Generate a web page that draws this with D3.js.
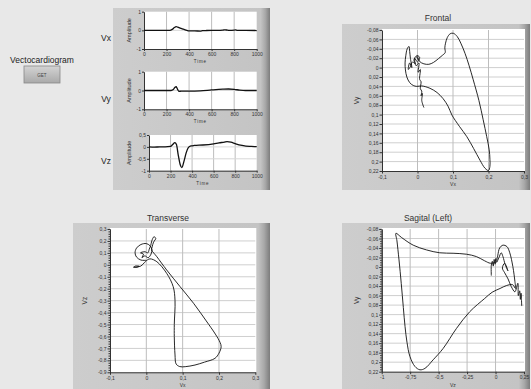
<!DOCTYPE html>
<html>
<head>
<meta charset="utf-8">
<script src="https://cdn.jsdelivr.net/npm/d3@7"></script>
<style>
  body { margin: 0; background: #e8e8e8; }
  svg text { font-family: "Liberation Sans", Arial, sans-serif; }
  .tick text { font-size: 5px; fill: #333; }
  .tick line, .domain { stroke: #333; }
</style>
</head>
<body>
<div class="chart"></div>
<script>
// ---- data ----
var timeTicks = [0, 200, 400, 600, 800, 1000];
var ampTicks = [1, 0, -1];
var vzAmpTicks = [0.5, 0, -0.5, -1];

var vxTime = [0, 50, 100, 150, 200, 230, 250, 270, 285, 300, 320, 350, 380, 400, 450, 500, 520, 550, 600, 650, 700, 720, 740, 760, 800, 810, 830, 900, 1000];
var vxAmp  = [0, 0, 0, 0, 0, 0, 0.05, 0.15, 0.2, 0.17, 0.12, 0.06, 0, -0.03, -0.03, -0.04, -0.02, -0.01, 0, 0, 0.01, 0.03, 0.01, 0, 0.01, 0.03, 0, 0, -0.01];

var vyTime = [0, 100, 200, 240, 260, 275, 285, 295, 310, 330, 400, 500, 600, 700, 750, 800, 850, 900, 1000];
var vyAmp  = [0, 0, 0, 0, 0.05, 0.17, 0.2, 0.1, -0.05, -0.03, -0.03, -0.02, 0.03, 0.07, 0.08, 0.06, 0.02, 0, 0];

var vzTime = [0, 50, 100, 150, 200, 220, 240, 255, 270, 290, 305, 325, 345, 365, 390, 420, 500, 600, 650, 700, 725, 760, 800, 850, 900, 950, 1000];
var vzAmp  = [0, -0.01, 0, 0, 0.02, 0.1, 0.18, 0.1, -0.3, -0.75, -0.87, -0.6, -0.25, -0.03, 0.04, 0.06, 0.08, 0.13, 0.17, 0.2, 0.22, 0.2, 0.14, 0.07, 0.03, 0.02, 0.01];

var frontalTicksX = [-0.1, 0, 0.1, 0.2, 0.3];
var frontalTicksY = [-0.08, -0.06, -0.04, -0.02, 0, 0.02, 0.04, 0.06, 0.08, 0.1, 0.12, 0.14, 0.16, 0.18, 0.2, 0.22];
var transverseTicksY = [0.3, 0.2, 0.1, 0, -0.1, -0.2, -0.3, -0.4, -0.5, -0.6, -0.7, -0.8, -0.9];
var sagitalTicksX = [-1, -0.75, -0.5, -0.25, 0, 0.25];

// Frontal loop: [Vx, Vy]
var frontalLoop = [
  [0.002, -0.016], [-0.004, -0.024], [-0.01, -0.016], [-0.006, -0.008], [-0.014, -0.012], [-0.02, -0.002],
  [-0.026, 0.004], [-0.022, -0.01], [-0.016, 0], [-0.02, -0.02], [-0.022, -0.034], [-0.024, -0.045],
  [-0.029, -0.04], [-0.033, -0.025], [-0.035, -0.01], [-0.034, 0.005], [-0.03, 0.02], [-0.022, 0.032],
  [-0.012, 0.038], [-0.002, 0.04], [0.012, 0.039], [0.035, 0.044], [0.055, 0.053], [0.072, 0.066],
  [0.086, 0.082], [0.097, 0.101], [0.118, 0.125], [0.139, 0.147], [0.158, 0.172], [0.176, 0.197],
  [0.19, 0.214], [0.2, 0.219], [0.204, 0.21], [0.204, 0.195], [0.202, 0.175], [0.195, 0.147],
  [0.185, 0.111], [0.173, 0.07], [0.157, 0.026], [0.145, -0.005], [0.134, -0.03], [0.122, -0.052],
  [0.112, -0.066], [0.101, -0.073], [0.092, -0.072], [0.084, -0.064], [0.079, -0.052], [0.077, -0.042],
  [0.078, -0.032], [0.07, -0.026], [0.059, -0.019], [0.045, -0.011], [0.032, -0.007], [0.018, -0.008],
  [0.006, -0.013], [0.002, -0.02], [-0.002, -0.026], [0.006, -0.022], [0, -0.012], [-0.008, -0.02],
  [-0.004, -0.004], [0.004, -0.01], [0.002, 0.01], [0.008, 0.004], [0.006, 0.025], [0.01, 0.03],
  [0.008, 0.045], [0.012, 0.05], [0.01, 0.06], [0.014, 0.055], [0.012, 0.07], [0.018, 0.085]
];

// Transverse loop: [Vx, Vz]
var transverseLoop = [
  [-0.035, -0.02], [-0.03, -0.01], [-0.02, -0.012], [-0.028, -0.022], [-0.035, -0.02], [-0.015, -0.01],
  [-0.005, 0.02], [0, 0.035], [-0.015, 0.04], [-0.027, 0.065], [-0.031, 0.1], [-0.027, 0.14],
  [-0.015, 0.17], [0, 0.178], [0.01, 0.16], [0.015, 0.13], [0.013, 0.09], [0.005, 0.06],
  [-0.004, 0.075], [-0.012, 0.06], [-0.008, 0.09], [-0.016, 0.1], [-0.004, 0.11], [0.004, 0.1],
  [0.008, 0.13], [0.012, 0.16], [0.015, 0.2], [0.021, 0.235], [0.026, 0.222], [0.02, 0.19],
  [0.016, 0.15], [0.015, 0.124], [0.029, 0.068], [0.056, -0.043], [0.093, -0.183], [0.13, -0.322],
  [0.165, -0.47], [0.19, -0.58], [0.203, -0.65], [0.206, -0.686], [0.2, -0.74], [0.189, -0.783],
  [0.16, -0.815], [0.134, -0.839], [0.107, -0.853], [0.092, -0.852], [0.082, -0.83], [0.079, -0.755],
  [0.077, -0.6], [0.077, -0.5], [0.079, -0.3], [0.074, -0.183], [0.056, -0.071], [0.029, 0.026],
  [0.01, 0.05], [0, 0.035]
];

// Sagittal loop: [Vz, Vy]
var sagitalLoop = [
  [-0.037, 0.018], [-0.037, -0.004], [-0.028, -0.012], [-0.02, -0.002], [-0.012, -0.016], [-0.004, -0.006],
  [0.004, -0.018], [-0.008, -0.01], [-0.045, -0.008], [-0.095, -0.013], [-0.168, -0.022], [-0.256, -0.027],
  [-0.373, -0.029], [-0.49, -0.03], [-0.606, -0.036], [-0.723, -0.046], [-0.825, -0.062], [-0.875, -0.071],
  [-0.866, -0.055], [-0.848, -0.015], [-0.828, 0.035], [-0.81, 0.085], [-0.795, 0.125], [-0.778, 0.158],
  [-0.752, 0.188], [-0.708, 0.209], [-0.664, 0.216], [-0.62, 0.213], [-0.548, 0.195], [-0.46, 0.171],
  [-0.343, 0.129], [-0.227, 0.094], [-0.095, 0.066], [-0.03, 0.053], [0.04, 0.045], [0.095, 0.039],
  [0.15, 0.037], [0.175, 0.045], [0.17, 0.03], [0.152, -0.001], [0.125, -0.03], [0.1, -0.043],
  [0.065, -0.046], [0.036, -0.04], [0.02, -0.025], [0.01, -0.01], [0.03, -0.02], [0.05, -0.03],
  [0.065, -0.022], [0.085, -0.005], [0.109, 0.008], [0.08, -0.008], [0.06, 0.002], [0.08, 0.012],
  [0.11, 0.025], [0.138, 0.041], [0.17, 0.052], [0.196, 0.034], [0.2, 0.06], [0.212, 0.05],
  [0.218, 0.068], [0.224, 0.055], [0.228, 0.07], [0.23, 0.082]
];

// ---- drawing ----
var svgWidth = 531;
var svgHeight = 389;

var svg = d3.select('.chart')
  .append('svg')
  .attr('width', svgWidth)
  .attr('height', svgHeight);

var defs = svg.append('defs');
var grad = defs.append('linearGradient').attr('id', 'frameGrad').attr('x1', 0).attr('x2', 1);
grad.append('stop').attr('offset', '0%').attr('stop-color', '#cdcdcd');
grad.append('stop').attr('offset', '94%').attr('stop-color', '#c4c4c4');
grad.append('stop').attr('offset', '97%').attr('stop-color', '#a8a8a8');
grad.append('stop').attr('offset', '100%').attr('stop-color', '#7c7c7c');

var btnGrad = defs.append('linearGradient').attr('id', 'btnGrad').attr('x1', 0).attr('x2', 0).attr('y1', 0).attr('y2', 1);
btnGrad.append('stop').attr('offset', '0%').attr('stop-color', '#d4d4d4');
btnGrad.append('stop').attr('offset', '100%').attr('stop-color', '#a9a9a9');

var fmt = function(v) {
  return String(Math.round(v * 1000) / 1000).replace('.', ',');
};

svg.append('rect').attr('width', svgWidth).attr('height', svgHeight).attr('fill', '#e8e8e8');

// left control
svg.append('text').attr('x', 42).attr('y', 63).attr('text-anchor', 'middle')
  .attr('font-size', 8.5).attr('fill', '#222').text('Vectocardiogram');
svg.append('rect').attr('x', 24).attr('y', 66).attr('width', 36).attr('height', 17)
  .attr('fill', 'url(#btnGrad)').attr('stroke', '#888').attr('stroke-width', 0.8);
svg.append('text').attr('x', 42).attr('y', 76.5).attr('text-anchor', 'middle')
  .attr('font-size', 4.5).attr('fill', '#444').text('GET');

// frame of the three time charts
svg.append('rect').attr('x', 113).attr('y', 8).attr('width', 157).attr('height', 182)
  .attr('fill', 'url(#frameGrad)');

function drawTimeChart(c) {
  var g = svg.append('g');
  var x = d3.scaleLinear().domain([0, 1000]).range([c.x0, c.x1]);
  var y = d3.scaleLinear().domain([c.ticks[0], c.ticks[c.ticks.length - 1]]).range([c.y0, c.y1]);

  g.append('rect').attr('x', c.x0).attr('y', c.y0).attr('width', c.x1 - c.x0).attr('height', c.y1 - c.y0)
    .attr('fill', '#fff');

  g.selectAll('.vg').data(timeTicks.slice(1, -1)).enter().append('line')
    .attr('x1', d => x(d)).attr('x2', d => x(d)).attr('y1', c.y0).attr('y2', c.y1)
    .attr('stroke', '#bdbdbd').attr('stroke-width', 1);
  g.selectAll('.hg').data(c.ticks.slice(1, -1)).enter().append('line')
    .attr('x1', c.x0).attr('x2', c.x1).attr('y1', d => y(d)).attr('y2', d => y(d))
    .attr('stroke', '#d8d8d8').attr('stroke-width', 1);

  g.append('g').attr('transform', `translate(0, ${c.y1})`)
    .call(d3.axisBottom(x).tickValues(timeTicks).tickFormat(d => d).tickSize(2).tickSizeOuter(0).tickPadding(1.5));
  g.append('g').attr('transform', `translate(${c.x0}, 0)`)
    .call(d3.axisLeft(y).tickValues(c.ticks).tickFormat(fmt).tickSize(2).tickSizeOuter(0).tickPadding(1));

  var pts = c.t.map((t, i) => [t, c.v[i]]);
  g.append('path').datum(pts)
    .attr('d', d3.line().x(d => x(d[0])).y(d => y(d[1])).curve(d3.curveMonotoneX))
    .attr('fill', 'none').attr('stroke', '#111').attr('stroke-width', 1.3);

  g.append('text').attr('transform', `translate(131, ${(c.y0 + c.y1) / 2}) rotate(-90)`)
    .attr('text-anchor', 'middle').attr('font-size', 5.5).attr('fill', '#333').text('Amplitude');
  g.append('text').attr('x', (c.x0 + c.x1) / 2).attr('y', c.y1 + 14).attr('text-anchor', 'middle')
    .attr('font-size', 4.5).attr('letter-spacing', 0.8).attr('fill', '#333').text('Time');
  svg.append('text').attr('x', c.lx).attr('y', c.ly).attr('text-anchor', 'middle')
    .attr('font-size', 8.5).attr('fill', '#222').text(c.label);
}

drawTimeChart({ label: 'Vx', lx: 106, ly: 41, t: vxTime, v: vxAmp, ticks: ampTicks, x0: 144, x1: 256.7, y0: 11.7, y1: 49 });
drawTimeChart({ label: 'Vy', lx: 106, ly: 102, t: vyTime, v: vyAmp, ticks: ampTicks, x0: 144, x1: 256.7, y0: 71.7, y1: 109.3 });
drawTimeChart({ label: 'Vz', lx: 106, ly: 164, t: vzTime, v: vzAmp, ticks: vzAmpTicks, x0: 149, x1: 256.7, y0: 135, y1: 170.7 });

function drawLoop(c) {
  var g = svg.append('g');
  g.append('rect').attr('x', c.px).attr('y', c.py).attr('width', c.pw).attr('height', c.ph)
    .attr('fill', 'url(#frameGrad)');
  g.append('text').attr('x', c.tx).attr('y', c.ty).attr('text-anchor', 'middle')
    .attr('font-size', 8.5).attr('fill', '#333').text(c.title);

  var x = d3.scaleLinear().domain([c.xTicks[0], c.xTicks[c.xTicks.length - 1]]).range([c.x0, c.x1]);
  var y = d3.scaleLinear().domain([c.yTicks[0], c.yTicks[c.yTicks.length - 1]]).range([c.y0, c.y1]);

  g.append('rect').attr('x', c.x0).attr('y', c.y0 - 1).attr('width', c.x1 - c.x0 + 1).attr('height', c.y1 - c.y0 + 1)
    .attr('fill', '#fff');

  g.selectAll('.hg').data(c.yTicks.slice(1, -1)).enter().append('line')
    .attr('x1', c.x0).attr('x2', c.x1).attr('y1', d => y(d)).attr('y2', d => y(d))
    .attr('stroke', '#cfcfcf').attr('stroke-width', 1);
  g.selectAll('.vg').data(c.xTicks.slice(1, -1)).enter().append('line')
    .attr('x1', d => x(d)).attr('x2', d => x(d)).attr('y1', c.y0).attr('y2', c.y1)
    .attr('stroke', '#bdbdbd').attr('stroke-width', 1);

  if (c.yMinor) {
    g.append('g').attr('transform', `translate(${c.x0}, 0)`)
      .call(d3.axisLeft(y).tickValues(c.yMinor).tickFormat('').tickSize(1.5).tickSizeOuter(0));
  }
  g.append('g').attr('transform', `translate(0, ${c.y1})`)
    .call(d3.axisBottom(x).tickValues(c.xTicks).tickFormat(fmt).tickSize(2.5).tickSizeOuter(0).tickPadding(1.5));
  g.append('g').attr('transform', `translate(${c.x0}, 0)`)
    .call(d3.axisLeft(y).tickValues(c.yTicks).tickFormat(fmt).tickSize(2.5).tickSizeOuter(0).tickPadding(1));

  g.append('path').datum(c.data)
    .attr('d', d3.line().x(d => x(d[0])).y(d => y(d[1])).curve(d3.curveCatmullRom))
    .attr('fill', 'none').attr('stroke', '#111').attr('stroke-width', 0.9);

  g.append('text').attr('x', (c.x0 + c.x1) / 2).attr('y', c.y1 + 15).attr('text-anchor', 'middle')
    .attr('font-size', 5).attr('fill', '#333').text(c.xLabel);
  g.append('text').attr('transform', `translate(${c.x0 - 23}, ${(c.y0 + c.y1) / 2}) rotate(-90)`)
    .attr('text-anchor', 'middle').attr('font-size', 6.5).attr('fill', '#333').text(c.yLabel);
}

function minorTicks(ticks, n) {
  var out = [];
  for (var i = 0; i < ticks.length - 1; i++) {
    for (var k = 1; k < n; k++) out.push(ticks[i] + (ticks[i + 1] - ticks[i]) * k / n);
  }
  return out;
}

drawLoop({
  title: 'Frontal', tx: 438, ty: 21, px: 342, py: 24, pw: 188, ph: 166,
  x0: 382, x1: 524, y0: 30, y1: 171,
  xTicks: frontalTicksX, yTicks: frontalTicksY, data: frontalLoop, xLabel: 'Vx', yLabel: 'Vy'
});
drawLoop({
  title: 'Transverse', tx: 168, ty: 221, px: 73, py: 223, pw: 197, ph: 166,
  x0: 110, x1: 255.3, y0: 229, y1: 372.3,
  xTicks: frontalTicksX, yTicks: transverseTicksY, yMinor: minorTicks(transverseTicksY, 5),
  data: transverseLoop, xLabel: 'Vx', yLabel: 'Vz'
});
drawLoop({
  title: 'Sagital (Left)', tx: 428, ty: 221, px: 342, py: 223, pw: 188, ph: 166,
  x0: 381.7, x1: 524, y0: 229, y1: 371.7,
  xTicks: sagitalTicksX, yTicks: frontalTicksY, yMinor: minorTicks(frontalTicksY, 4),
  data: sagitalLoop, xLabel: 'Vz', yLabel: 'Vy'
});
</script>
</body>
</html>
